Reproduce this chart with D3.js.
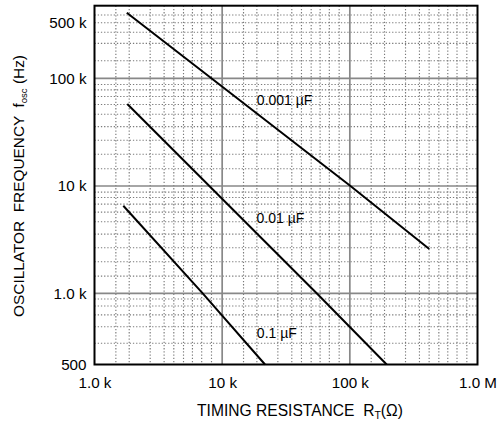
<!DOCTYPE html>
<html><head><meta charset="utf-8">
<script src="https://cdn.jsdelivr.net/npm/d3@7"></script>
<style>
body{margin:0;background:#fff}
svg{display:block}
text{font-family:"Liberation Sans",Arial,Helvetica,sans-serif;fill:#000}
</style>
</head><body>
<svg id="chart" width="497" height="424"></svg>
<script>
// ---- data ----
const xTickValues = [1e3, 1e4, 1e5, 1e6];
const xTickLabels = ["1.0 k", "10 k", "100 k", "1.0 M"];
const yTickValues = [500, 1e3, 1e4, 1e5, 5e5];
const yTickLabels = ["500", "1.0 k", "10 k", "100 k", "500 k"];
const xMajorGrid = [1e4, 1e5];
const yMajorGrid = [1e3, 1e4, 1e5];
const xDecades = [1e3, 1e4, 1e5];
const yDecades = [1e3, 1e4];
const xMinorMult = [1.47, 1.87, 2.73, 3.51, 4.18, 4.98, 5.85, 6.91, 8.25];
const yMinorMult = [1.445, 1.97, 2.66, 3.56, 4.64, 5.71, 6.77, 7.82, 8.76];
const yMinorExtra = [615, 722, 810, 884, 946, 166e3, 275e3, 379e3, 5e5, 685e3];
const capacitors = ["0.001 µF", "0.01 µF", "0.1 µF"];
const seriesR = [[1790, 100000, 419000], [1806, 55000, 194400], [1681, 7040, 21660]];
const seriesF = [[752000, 10100, 2590], [57700, 1000, 500], [6550, 1000, 500]];
const labelR = [18700, 18600, 18700];
const labelF = [56500, 4520, 647];

// ---- layout ----
const svg = d3.select("#chart");
const L = 94.5, R = 477.5, T = 5.7, B = 364.5;
const x = d3.scaleLog().domain([1e3, 1e6]).range([L, R]);
const y = d3.scaleLog()
  .domain([500, 1e3, 1e4, 1e5, 5e5, 1e6])
  .range([B, 293.3, 186, 78.3, 22.7, T]);

const xMinor = xDecades.flatMap(d => xMinorMult.map(m => d * m));
const yMinor = yDecades.flatMap(d => yMinorMult.map(m => d * m)).concat(yMinorExtra);

const g = svg.append("g");
// minor grid
g.selectAll(".vmin").data(xMinor).join("line")
  .attr("x1", d => x(d)).attr("x2", d => x(d)).attr("y1", T).attr("y2", B)
  .attr("stroke", "#7a7a7a").attr("stroke-width", 1.15).attr("stroke-dasharray", "1.3,1.9");
g.selectAll(".hmin").data(yMinor).join("line")
  .attr("y1", d => y(d)).attr("y2", d => y(d)).attr("x1", L).attr("x2", R)
  .attr("stroke", "#7a7a7a").attr("stroke-width", 1.15).attr("stroke-dasharray", "1.3,1.9");
// major grid
g.selectAll(".vmaj").data(xMajorGrid).join("line")
  .attr("x1", d => x(d)).attr("x2", d => x(d)).attr("y1", T).attr("y2", B)
  .attr("stroke", "#888").attr("stroke-width", 1.7);
g.selectAll(".hmaj").data(yMajorGrid).join("line")
  .attr("y1", d => y(d)).attr("y2", d => y(d)).attr("x1", L).attr("x2", R)
  .attr("stroke", "#888").attr("stroke-width", 1.7);

// curves
const line = d3.line().x(d => x(d[0])).y(d => y(d[1]));
capacitors.forEach((c, i) => {
  const pts = seriesR[i].map((r, j) => [r, seriesF[i][j]]);
  svg.append("path").attr("d", line(pts)).attr("fill", "none")
    .attr("stroke", "#000").attr("stroke-width", 2);
  svg.append("text").attr("x", x(labelR[i])).attr("y", y(labelF[i]))
    .attr("font-size", 14).text(c);
});

// frame
svg.append("rect").attr("x", L).attr("y", T).attr("width", R - L).attr("height", B - T)
  .attr("fill", "none").attr("stroke", "#000").attr("stroke-width", 2);

// axes
const xAxis = d3.axisBottom(x).tickValues(xTickValues)
  .tickFormat((d, i) => xTickLabels[i]).tickSize(0).tickPadding(13);
const gx = svg.append("g").attr("transform", `translate(0,${B})`).call(xAxis);
gx.select(".domain").remove();
gx.selectAll("text").attr("font-size", 15.2).attr("font-family", null).attr("fill", "#000");

const yAxis = d3.axisLeft(y).tickValues(yTickValues)
  .tickFormat((d, i) => yTickLabels[i]).tickSize(0).tickPadding(8);
const gy = svg.append("g").attr("transform", `translate(${L},0)`).call(yAxis);
gy.select(".domain").remove();
gy.selectAll("text").attr("font-size", 15.2).attr("font-family", null).attr("fill", "#000");

// titles
const xt = svg.append("text").attr("x", 300).attr("y", 416).attr("text-anchor", "middle")
  .attr("font-size", 15.6).attr("xml:space", "preserve");
xt.append("tspan").text("TIMING RESISTANCE  R");
xt.append("tspan").attr("font-size", 10.5).attr("dy", 3).text("T");
xt.append("tspan").attr("dy", -3).text("(Ω)");

const yt = svg.append("text").attr("transform", "translate(24,186) rotate(-90)")
  .attr("text-anchor", "middle").attr("font-size", 15.4).attr("xml:space", "preserve");
yt.append("tspan").text("OSCILLATOR  FREQUENCY  f");
yt.append("tspan").attr("font-size", 9.5).attr("dy", 3).text("osc");
yt.append("tspan").attr("dy", -3).text(" (Hz)");
</script>
</body></html>
